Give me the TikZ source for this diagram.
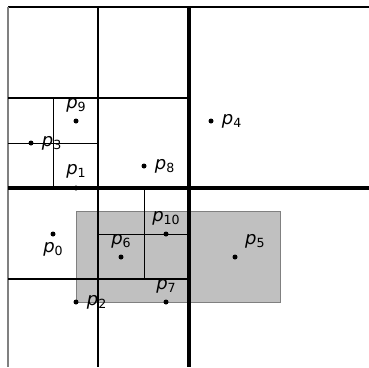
\documentclass[tikz,border=0pt]{standalone}
\usepackage{fontspec}
\setmainfont{DejaVu Sans}
\usetikzlibrary{positioning}
\definecolor{qfill}{RGB}{192,192,192}
\definecolor{qedge}{RGB}{128,128,128}
\newcommand{\plab}[1]{\textit{p}\raisebox{-3pt}{\fontsize{12.6}{13}\selectfont #1}}
\tikzset{
  dot/.style={circle, fill=black, inner sep=0pt, minimum size=5pt},
  lab/.style={inner sep=0pt, font=\fontsize{18}{20}\selectfont},
  lvlone/.style={line width=4.5pt, black},
  lvltwo/.style={line width=2pt, black},
  lvlthree/.style={line width=1pt, black},
  query/.style={fill=qfill, draw=qedge, line width=1pt},
}
\begin{document}
\begin{tikzpicture}[x=1pt,y=-1pt]
\useasboundingbox (0,0) rectangle (369,367);
% query rectangle
\draw[query] (76,211) rectangle (280,302);
% border
\draw[line width=1.5pt, black] (8,7) -- (369,7);
\draw[line width=2pt, qedge] (8,6.5) -- (8,367);
% level 1
\draw[lvlone] (189,7) -- (189,367);
\draw[lvlone] (8,188) -- (369,188);
% level 2
\draw[lvltwo] (98,7) -- (98,188);
\draw[lvltwo] (8,98) -- (189,98);
\draw[lvltwo] (98,188) -- (98,367);
\draw[lvltwo] (8,279) -- (189,279);
% level 3
\draw[lvlthree] (53,98) -- (53,188);
\draw[lvlthree] (8,143) -- (98,143);
\draw[lvlthree] (144,188) -- (144,279);
\draw[lvlthree] (98,234) -- (189,234);
% points
\node[dot] (p0) at (53,234) {};
\node[dot] (p1) at (76,188) {};
\node[dot] (p2) at (76,302) {};
\node[dot] (p3) at (31,143) {};
\node[dot] (p4) at (211,121) {};
\node[dot] (p5) at (235,257) {};
\node[dot] (p6) at (121,257) {};
\node[dot] (p7) at (166,302) {};
\node[dot] (p8) at (144,166) {};
\node[dot] (p9) at (76,121) {};
\node[dot] (p10) at (166,234) {};
% labels
\node[lab, below=6pt of p0] (l0) {\plab{0}};
\node[lab, above=7pt of p1] (l1) {\plab{1}};
\node[lab, right=8pt of p2] (l2) {\plab{2}};
\node[lab, right=8pt of p3] (l3) {\plab{3}};
\node[lab, right=8pt of p4] (l4) {\plab{4}};
\node[lab, anchor=south west] (l5) at ([xshift=10pt,yshift=9pt]p5.center) {\plab{5}};
\node[lab, above=6pt of p6] (l6) {\plab{6}};
\node[lab, above=6pt of p7] (l7) {\plab{7}};
\node[lab, right=8pt of p8] (l8) {\plab{8}};
\node[lab, above=6pt of p9] (l9) {\plab{9}};
\node[lab, above=6pt of p10] (l10) {\plab{10}};
\end{tikzpicture}
\end{document}
